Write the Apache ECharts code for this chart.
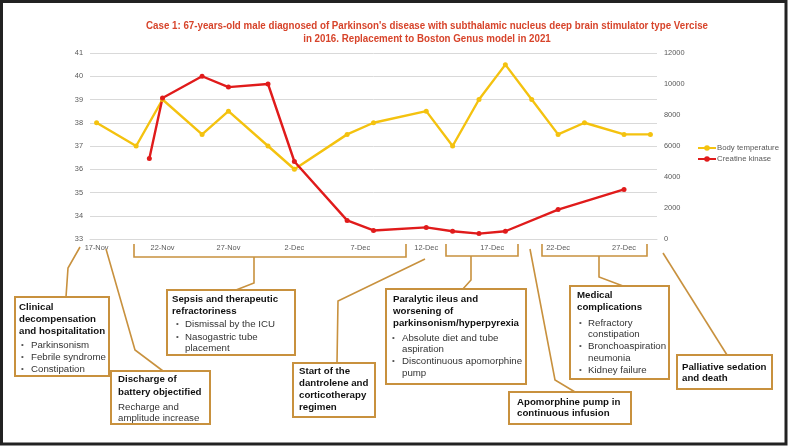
<!DOCTYPE html>
<html>
<head>
<meta charset="utf-8">
<script src="https://cdn.jsdelivr.net/npm/echarts@6/dist/echarts.min.js"></script>
<style>html,body{margin:0;padding:0;background:#fff}#c{width:788px;height:447px}</style>
</head>
<body>
<div id="c"></div>
<script>
// ---- data ----
const categories = ['17-Nov','18-Nov','19-Nov','20-Nov','21-Nov','22-Nov','23-Nov','24-Nov','25-Nov','26-Nov','27-Nov','28-Nov','29-Nov','30-Nov',
  '1-Dec','2-Dec','3-Dec','4-Dec','5-Dec','6-Dec','7-Dec','8-Dec','9-Dec','10-Dec','11-Dec','12-Dec','13-Dec','14-Dec','15-Dec','16-Dec',
  '17-Dec','18-Dec','19-Dec','20-Dec','21-Dec','22-Dec','23-Dec','24-Dec','25-Dec','26-Dec','27-Dec','28-Dec','29-Dec'];
const tempDates = ['17-Nov','20-Nov','22-Nov','25-Nov','27-Nov','30-Nov','2-Dec','6-Dec','8-Dec','12-Dec','14-Dec','16-Dec','18-Dec','20-Dec','22-Dec','24-Dec','27-Dec','29-Dec'];
const tempValues = [38,37,39,37.5,38.5,37,36,37.5,38,38.5,37,39,40.5,39,37.5,38,37.5,37.5];
const ckDates = ['21-Nov','22-Nov','25-Nov','27-Nov','30-Nov','2-Dec','6-Dec','8-Dec','12-Dec','14-Dec','16-Dec','18-Dec','22-Dec','27-Dec'];
const ckValues = [5200,9100,10500,9800,10000,5000,1200,550,750,500,350,500,1900,3200];
const seriesNames = ['Body temperature','Creatine kinase'];
const titleLines = ["Case 1: 67-years-old male diagnosed of Parkinson's disease with subthalamic nucleus deep brain stimulator type Vercise",
  "in 2016. Replacement to Boston Genus model in 2021"];

// ---- styles / annotations ----
const FONT = '"Liberation Sans", Arial, sans-serif';
const BROWN = '#C8913E';
const annoLines = [
  [[80,247],[68,268],[66,297]],
  [[106,249],[135,350],[163,371]],
  [[134,244],[134,257],[406,257],[406,244]],
  [[254,257],[254,283],[236,290]],
  [[425,259],[338,301],[337,363]],
  [[446,244],[446,256],[518,256],[518,244]],
  [[471,256],[471,280],[462,290]],
  [[530,249],[555,380],[575,392]],
  [[542,244],[542,256],[647,256],[647,244]],
  [[599,256],[599,277],[623,286]],
  [[663,253],[727,355]]
];
// each line: [text, kind, y] kind: b=bold, r=regular, d=bullet, c=continuation
const boxes = [
  {x:15,y:297,w:94,h:79,tx:19,dx:21,bx:31,lines:[['Clinical','b',307],['decompensation','b',319],['and hospitalitation','b',331],['Parkinsonism','d',345],['Febrile syndrome','d',357],['Constipation','d',369]]},
  {x:111,y:371,w:99,h:53,tx:118,lines:[['Discharge of','b',379],['battery objectified','b',392],['Recharge and','r',407],['amplitude increase','r',418]]},
  {x:167,y:290,w:128,h:65,tx:172,dx:176,bx:185,lines:[['Sepsis and therapeutic','b',299],['refractoriness','b',311],['Dismissal by the ICU','d',324],['Nasogastric tube','d',337],['placement','c',348]]},
  {x:293,y:363,w:82,h:54,tx:299,lines:[['Start of the','b',371],['dantrolene and','b',383],['corticotherapy','b',395],['regimen','b',407]]},
  {x:386,y:289,w:140,h:95,tx:393,dx:392,bx:402,lines:[['Paralytic ileus and','b',299],['worsening of','b',311],['parkinsonism/hyperpyrexia','b',323],['Absolute diet and tube','d',338],['aspiration','c',349],['Discontinuous apomorphine','d',361],['pump','c',373]]},
  {x:570,y:286,w:99,h:93,tx:577,dx:579,bx:588,lines:[['Medical','b',295],['complications','b',307],['Refractory','d',323],['constipation','c',334],['Bronchoaspiration','d',346],['neumonia','c',358],['Kidney failure','d',370]]},
  {x:509,y:392,w:122,h:32,tx:517,lines:[['Apomorphine pump in','b',402],['continuous infusion','b',413]]},
  {x:677,y:355,w:95,h:34,tx:682,lines:[['Palliative sedation','b',367],['and death','b',378]]}
];

function txt(x, y, s, bold, color, size) {
  return {type:'text', x:x, y:y, z:10, silent:true,
    style:{text:s, fill:color, fontSize:size||9.7, fontWeight:bold?'bold':'normal', fontFamily:FONT,
      textAlign:'left', textVerticalAlign:'middle', align:'left', verticalAlign:'middle'}};
}

const elements = [];
// frame
elements.push({type:'rect', z:1, silent:true, shape:{x:1.5,y:1.5,width:784.5,height:442.5}, style:{fill:null, stroke:'#222', lineWidth:3}});
annoLines.forEach(p => elements.push({type:'polyline', z:5, silent:true, shape:{points:p}, style:{fill:null, stroke:BROWN, lineWidth:1.6}}));
boxes.forEach(b => {
  elements.push({type:'rect', z:8, silent:true, shape:{x:b.x,y:b.y,width:b.w,height:b.h}, style:{fill:'#fff', stroke:BROWN, lineWidth:2}});
  b.lines.forEach(l => {
    const [s, k, y] = l;
    if (k === 'b') elements.push(txt(b.tx, y, s, true, '#111'));
    else if (k === 'r') elements.push(txt(b.tx, y, s, false, '#333'));
    else {
      if (k === 'd') elements.push(txt(b.dx, y, '•', false, '#555', 8));
      elements.push(txt(b.bx, y, s, false, '#333'));
    }
  });
});
// title (narrow bold)
const cv = document.createElement('canvas').getContext('2d');
cv.font = 'bold 11px "Liberation Sans", Arial, sans-serif';
const w1 = cv.measureText(titleLines[0]).width;
const sx = 562 / w1;
[[titleLines[0], 26], [titleLines[1], 39]].forEach(([s, y]) => {
  elements.push({type:'text', x:427, y:y, scaleX:sx, originX:0, originY:0, z:10, silent:true,
    style:{text:s, fill:'#D7442B', fontSize:11, fontWeight:'bold', fontFamily:FONT,
      textAlign:'center', textVerticalAlign:'middle', align:'center', verticalAlign:'middle'}});
});

const chart = echarts.init(document.getElementById('c'), null, {renderer:'canvas'});
chart.setOption({
  animation:false,
  backgroundColor:'#fff',
  textStyle:{fontFamily:FONT},
  grid:{left:90, right:131, top:53, bottom:208, containLabel:false, outerBoundsMode:'none'},
  legend:{
    orient:'vertical', left:692, top:139, itemWidth:18, itemHeight:7, itemGap:3,
    textStyle:{fontSize:7.8, color:'#595959', fontFamily:FONT, padding:[0,0,0,-4]},
    data:seriesNames
  },
  xAxis:{
    type:'category', data:categories, boundaryGap:true,
    axisLine:{lineStyle:{color:'#D9D9D9'}}, axisTick:{show:false},
    axisLabel:{interval:4, fontSize:7.4, color:'#595959', margin:5, fontFamily:FONT}
  },
  yAxis:[
    {type:'value', min:33, max:41, interval:1,
     axisLine:{show:false}, axisTick:{show:false},
     splitLine:{lineStyle:{color:'#D9D9D9'}},
     axisLabel:{fontSize:7.4, color:'#595959', margin:7, fontFamily:FONT}},
    {type:'value', min:0, max:12000, interval:2000, position:'right',
     axisLine:{show:false}, axisTick:{show:false}, splitLine:{show:false},
     axisLabel:{fontSize:7.4, color:'#595959', margin:7, fontFamily:FONT, formatter:v => String(v)}}
  ],
  series:[
    {name:seriesNames[0], type:'line', yAxisIndex:0, connectNulls:true,
     data:tempDates.map((d,i)=>[d,tempValues[i]]),
     symbol:'circle', symbolSize:5, color:'#F4C20F',
     lineStyle:{width:2.4, color:'#F4C20F'}, itemStyle:{color:'#F4C20F'}},
    {name:seriesNames[1], type:'line', yAxisIndex:1, connectNulls:true,
     data:ckDates.map((d,i)=>[d,ckValues[i]]),
     symbol:'circle', symbolSize:5, color:'#E01B1B',
     lineStyle:{width:2.4, color:'#E01B1B'}, itemStyle:{color:'#E01B1B'}}
  ],
  graphic:{elements:elements}
});
</script>
</body>
</html>
